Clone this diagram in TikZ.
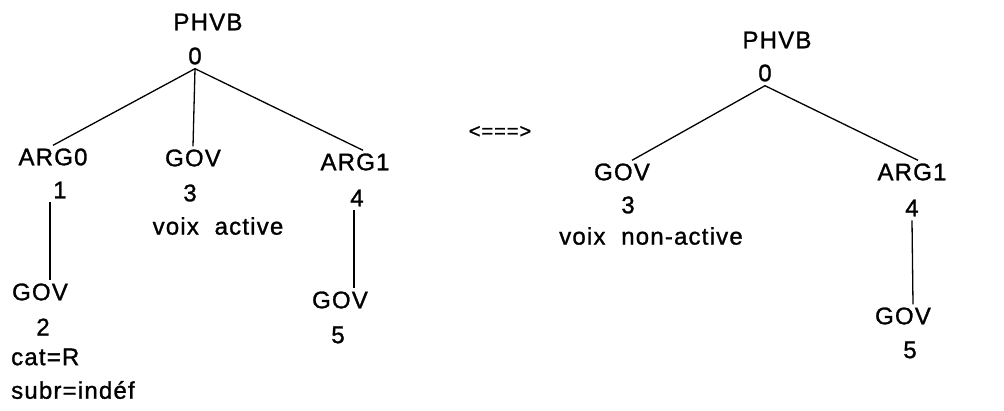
\documentclass[tikz,border=0pt]{standalone}
\usepackage{fontspec}
\setmainfont{Liberation Sans}[LetterSpace=5, FakeBold=1.2]
\usetikzlibrary{positioning}

\begin{document}
\begin{tikzpicture}[x=1pt, y=-1pt,
    lab/.style={inner sep=3pt, font=\fontsize{24}{28}\selectfont},
    num/.style={lab, inner sep=4pt},
    edge/.style={line width=1.3pt}]
    \useasboundingbox (0,0) rectangle (1004,410);

    % left tree, active voice
    \node[lab] (phvbL) at (208,22) {PHVB};
    \node[num] (zeroL) at (195,56) {0};
    \node[lab] (arg0L) at (53,157) {ARG0};
    \node[num] (oneL) at (60,190) {1};
    \node[lab] (govL) at (193,158) {GOV};
    \node[num] (threeL) at (190,193) {3};
    \node[lab] (arg1L) at (355,162) {ARG1};
    \node[num] (fourL) at (357,198) {4};
    \node[lab] (voixL) at (218,226) {voix\ \ active};
    \node[lab] (gov2L) at (40,292) {GOV};
    \node[num] (twoL) at (43,327) {2};
    \node[lab, anchor=west] (catL) at (8,357) {cat=R};
    \node[lab, anchor=west] (subrL) at (8,390) {subr=indéf};
    \node[lab] (gov5L) at (340,300) {GOV};
    \node[num] (fiveL) at (338,335) {5};

    \draw[edge] (zeroL.south) -- (arg0L.north);
    \draw[edge] (zeroL.south) -- (govL.north);
    \draw[edge] (zeroL.south) -- ([xshift=8pt]arg1L.north);
    \draw[edge] ([xshift=-10pt]oneL.south) -- ([xshift=10pt]gov2L.north);
    \draw[edge] ([xshift=-3pt]fourL.south) -- ([xshift=14pt]gov5L.north);

    % equivalence
    \node[font=\fontsize{20}{24}\selectfont] (equiv) at (500,132) {<===>};

    % right tree, non-active voice
    \node[lab] (phvbR) at (777,40) {PHVB};
    \node[num] (zeroR) at (765,73) {0};
    \node[lab] (govR) at (622,172) {GOV};
    \node[num] (threeR) at (628,205) {3};
    \node[lab] (voixR) at (651,236) {voix\ \ non-active};
    \node[lab] (arg1R) at (912,172) {ARG1};
    \node[num] (fourR) at (912,208) {4};
    \node[lab] (gov5R) at (903,316) {GOV};
    \node[num] (fiveR) at (910,350) {5};

    \draw[edge] (zeroR.south) -- ([xshift=10pt]govR.north);
    \draw[edge] (zeroR.south) -- ([xshift=6pt]arg1R.north);
    \draw[edge] (fourR.south) -- ([xshift=10pt]gov5R.north);
\end{tikzpicture}
\end{document}
